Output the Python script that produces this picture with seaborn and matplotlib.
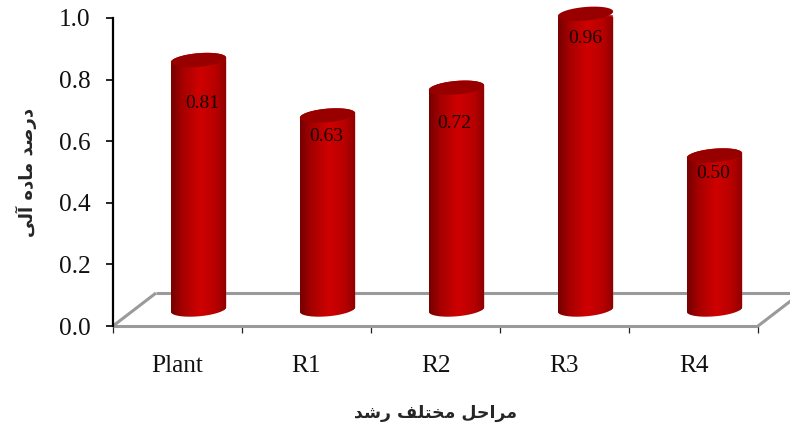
import numpy as np
import pandas as pd
import matplotlib
matplotlib.use("Agg")
import matplotlib.pyplot as plt
import seaborn as sns
from matplotlib.colors import LinearSegmentedColormap
from matplotlib.patches import PathPatch
from matplotlib.path import Path
from matplotlib.ticker import FixedLocator
from matplotlib.transforms import Affine2D, IdentityTransform

# Growth stages and organic matter percentage
stages = ["Plant", "R1", "R2", "R3", "R4"]
organic_matter = [0.81, 0.63, 0.72, 0.96, 0.50]
value_labels = ["0.81", "0.63", "0.72", "0.96", "0.50"]
y_ticks = [0.0, 0.2, 0.4, 0.6, 0.8, 1.0]
y_tick_labels = ["0.0", "0.2", "0.4", "0.6", "0.8", "1.0"]

# Persian axis titles as contextual glyph forms, logical order; reversed when drawn
x_title = "\uFEE3\uFEAE\uFE8D\uFEA3\uFEDE \uFEE3\uFEA8\uFE98\uFEE0\uFED2 \uFEAD\uFEB7\uFEAA"[::-1]
y_title = "\uFEA9\uFEAD\uFEBB\uFEAA \uFEE3\uFE8E\uFEA9\uFEE9 \uFE81\uFEDF\uFBFD"[::-1]

# Pixel offsets of each value label from the top of its cylinder
label_dx = [3.5, -1, -2.5, -0.5, -1]
label_dy = [-43, -21.5, -35.5, -24.5, -17.5]

# Floor depth and cylinder cap shape, in pixels
DEPTH_X, DEPTH_Y = 43, 33
CAP_B, CAP_TILT = 6.8, np.radians(5)

sns.set_style("white")
plt.rcParams["font.family"] = ["Liberation Serif", "DejaVu Sans"]

W, H = 790, 423
fig = plt.figure(figsize=(W / 100, H / 100), dpi=100, facecolor="white")
ax = fig.add_axes([113 / W, 1 - 326 / H, 645 / W, 308 / H])
ax.patch.set_alpha(0)

df = pd.DataFrame({"stage": stages, "value": organic_matter})
sns.barplot(data=df, x="stage", y="value", color="#c00000", saturation=1,
            width=0.43, ax=ax, zorder=3)
ax.set_xlim(-0.5, 4.5)
ax.set_ylim(0, 1)

# Bars stand in the middle of the floor's depth
mid_depth = Affine2D().translate(DEPTH_X / 2 - 0.5, DEPTH_Y / 2) + IdentityTransform()
bar_trans = ax.transData + mid_depth
back_trans = ax.transData + Affine2D().translate(DEPTH_X, DEPTH_Y)

# Floor parallelogram
floor = dict(color="#9a9a9a", lw=2.2, clip_on=False, solid_capstyle="butt")
ax.plot([-0.5, 4.5], [0, 0], zorder=1, **floor)
ax.plot([-0.5, 4.5], [0, 0], transform=back_trans, zorder=1, **floor)
for end in (-0.5, 4.5):
    x0, y0 = ax.transData.transform((end, 0))
    ax.plot([x0, x0 + DEPTH_X], [y0, y0 + DEPTH_Y], transform=IdentityTransform(),
            zorder=1, **floor)

shade = LinearSegmentedColormap.from_list(
    "cylinder",
    [(0.0, "#760000"), (0.22, "#a80000"), (0.52, "#cf0000"),
     (0.8, "#b80000"), (1.0, "#8c0000")],
)
gradient = np.linspace(0, 1, 256)[None, :]


def cap_points(center, half_width, theta):
    pts = np.column_stack([half_width * np.cos(theta), CAP_B * np.sin(theta)])
    rot = np.array([[np.cos(CAP_TILT), -np.sin(CAP_TILT)],
                    [np.sin(CAP_TILT), np.cos(CAP_TILT)]])
    return pts @ rot.T + center


for i, (bar, value, text) in enumerate(zip(ax.patches, organic_matter, value_labels)):
    x0, w = bar.get_x(), bar.get_width()
    bar.set_transform(bar_trans)
    base = bar_trans.transform((x0 + w / 2, 0))
    top = bar_trans.transform((x0 + w / 2, value))
    half = (bar_trans.transform((x0 + w, 0))[0] - bar_trans.transform((x0, 0))[0]) / 2

    # Cylinder silhouette in display space: lower arc of base, upper arc of top
    lower = cap_points(base, half, np.linspace(np.pi, 2 * np.pi, 60))
    upper = cap_points(top, half, np.linspace(0, np.pi, 60))
    outline = np.vstack([lower, upper, lower[:1]])
    silhouette = PathPatch(Path(outline), transform=IdentityTransform())

    bar.set_clip_box(None)
    bar.set_clip_path(silhouette)

    im = ax.imshow(gradient, cmap=shade, aspect="auto", vmin=0, vmax=1,
                   extent=(x0, x0 + w, -0.06, value + 0.06),
                   transform=bar_trans, zorder=3.5, interpolation="bilinear")
    im.set_clip_box(None)
    im.set_clip_path(silhouette)

    cap = cap_points(top, half, np.linspace(0, 2 * np.pi, 120))
    ax.add_patch(PathPatch(Path(cap), transform=IdentityTransform(),
                           facecolor="#980000", edgecolor="none", zorder=4,
                           clip_on=False))

    ax.text(top[0] + label_dx[i], top[1] + label_dy[i], text,
            transform=IdentityTransform(), ha="center", va="center",
            fontsize=14, color="#140000", zorder=5, clip_on=False)

ax.set_xlim(-0.5, 4.5)
ax.set_ylim(0, 1)

# Axes: solid left spine, ticks at category boundaries
sns.despine(ax=ax, top=True, right=True, bottom=True)
ax.spines["left"].set_linewidth(1.6)
ax.spines["left"].set_color("black")
ax.spines["left"].set_zorder(6)
ax.set_yticks(y_ticks, y_tick_labels, fontsize=18.2, color="#111111")
ax.tick_params(axis="y", which="major", left=True, length=5, width=1.2,
               color="black", pad=11)
ax.set_xticks(range(len(stages)), stages, fontsize=18.2, color="#111111")
ax.xaxis.set_minor_locator(FixedLocator(np.arange(-0.5, 5.0, 1.0)))
ax.tick_params(axis="x", which="major", bottom=False, length=0, pad=21)
ax.tick_params(axis="x", which="minor", bottom=True, length=5, width=0.9,
               color="#222222")

ax.set_xlabel(x_title, fontsize=12.5, fontweight="bold",
              family="DejaVu Sans", va="center")
ax.xaxis.set_label_coords(0.5, -0.2825)
ax.set_ylabel(y_title, fontsize=13, fontweight="bold",
              family="DejaVu Sans", va="center")
ax.yaxis.set_label_coords(-0.135, 0.5)

fig.savefig("out.png", dpi=100, facecolor="white")
